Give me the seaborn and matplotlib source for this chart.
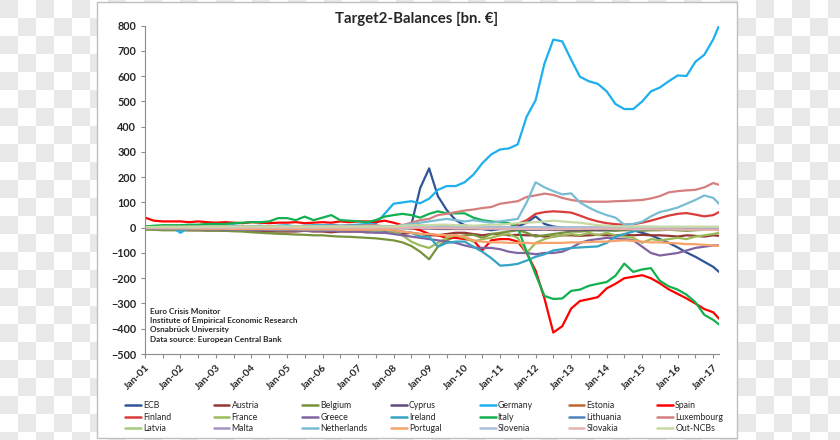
import numpy as np
import pandas as pd
import matplotlib
matplotlib.use("Agg")
import matplotlib.pyplot as plt
import matplotlib.dates as mdates
from matplotlib.lines import Line2D
from matplotlib.patches import Rectangle
from matplotlib.colors import ListedColormap
import seaborn as sns

# quarterly readings, Jan-01 .. Jan-17 plus Mar-17
dates = list(pd.date_range("2001-01-01", "2017-01-01", freq="QS")) + [pd.Timestamp("2017-03-01")]

ecb = [0, 0, 0, 0,  0, 0, -2, 0,  0, 0, 0, 0,  0, 0, 0, 0,
       0, 0, 0, 0,  0, 0, 0, 0,  0, 0, 0, 0,  0, 2, 10, 157,
       235, 125, 70, 30,  10, 0, -5, -10,  -5, 0, 5, 20,  45, 15, 5, 0,
       -5, -5, -5, -10,  -10, -10, -5, -10,  -20, -30, -45, -60,  -78, -98, -115, -135,
       -155, -175]
austria = [-5, -5, -8, -8,  -8, -10, -10, -10,  -10, -12, -12, -10,  -12, -12, -15, -15,
           -15, -15, -12, -15,  -15, -18, -15, -15,  -15, -18, -15, -16,  -20, -25, -20, -25,
           -30, -30, -25, -20,  -20, -25, -30, -25,  -25, -30, -28, -30,  -30, -35, -35, -30,
           -30, -32, -30, -28,  -30, -30, -28, -30,  -28, -30, -30, -32,  -35, -30, -32, -35,
           -30, -32]
belgium = [-8, -8, -10, -10,  -10, -10, -10, -12,  -12, -12, -14, -15,  -18, -20, -22, -24,
           -25, -27, -28, -30,  -30, -33, -35, -36,  -38, -40, -42, -46,  -50, -58, -72, -95,
           -125, -75, -50, -35,  -30, -28, -40, -25,  -20, -15, -10, -20,  -35, -30, -25, -20,
           -15, -15, -12, -10,  -10, -12, -10, -10,  -12, -10, -10, -8,  -10, -12, -10, -8,
           -5, -10]
cyprus = [-1, -1, -1, -1,  -1, -1, -2, -2,  -2, -2, -2, -2,  -2, -2, -2, -3,
          -3, -3, -3, -3,  -3, -3, -3, -3,  -3, -3, -3, -3,  -2, -2, -3, -3,
          -3, -5, -5, -5,  -5, -5, -5, -5,  -5, -6, -8, -8,  -8, -8, -9, -9,
          -10, -9, -8, -8,  -7, -6, -6, -5,  -5, -5, -4, -4,  -4, -3, -3, -3,
          -3, -3]
germany = [5, 3, 0, 2,  -20, 2, 5, 5,  5, 8, 10, 5,  5, 8, 5, 8,
           10, 5, 8, 10,  10, 12, 8, 10,  12, 15, 15, 55,  95, 100, 105, 97,
           115, 150, 165, 165,  180, 210, 255, 290,  310, 314, 330, 440,  505, 650, 745, 738,
           665, 598, 580, 570,  540, 490, 470, 470,  500, 540, 555, 580,  603, 601, 657, 685,
           746, 800]
estonia = [0, 0, 0, 0,  0, 0, 0, 0,  0, 0, 0, 0,  0, 0, 0, 0,
           0, 0, 0, 0,  0, 0, 0, 0,  0, 0, 0, 0,  0, 0, 0, 0,
           0, 0, 0, 0,  0, 0, 0, 0,  -1, -1, -1, -2,  -2, -2, -2, -2,
           -2, -2, -2, -2,  -2, -2, -2, -2,  -2, -2, -2, -2,  -2, -2, -2, -2,
           -2, -2]
spain = [40, 28, 25, 25,  25, 22, 25, 22,  20, 22, 20, 18,  22, 20, 18, 20,
         20, 22, 18, 20,  22, 20, 25, 22,  25, 25, 22, 28,  20, 10, 0, -10,
         -25, -30, -40, -40,  -45, -50, -90, -50,  -45, -45, -55, -100,  -170, -280, -415, -390,
         -320, -290, -283, -275,  -240, -222, -200, -194,  -188, -200, -220, -244,  -262, -280, -300, -322,
         -335, -360]
finland = [2, 0, 2, 0,  2, 3, 2, 3,  3, 2, 3, 4,  3, 4, 3, 4,
           4, 5, 4, 5,  5, 4, 5, 5,  5, 6, 5, 5,  5, 8, 10, 10,
           5, 5, 5, 5,  5, 5, 5, 0,  0, 0, 15, 30,  55, 62, 65, 63,
           60, 48, 35, 25,  18, 14, 12, 14,  20, 28, 38, 48,  55, 58, 52, 45,
           50, 62]
france = [-5, -5, -5, -5,  -5, -6, -5, -6,  -6, -6, -7, -8,  -8, -8, -8, -10,
          -10, -10, -10, -10,  -10, -12, -10, -12,  -12, -12, -15, -20,  -15, -30, -55, -70,
          -80, -60, -40, -30,  -40, -55, -45, -40,  -30, -25, -40, -100,  -60, -45, -35, -30,
          -25, -30, -20, -30,  -20, -30, -35, -40,  -60, -45, -50, -45,  -40, -45, -35, -30,
          -25, -20]
greece = [-3, -4, -5, -5,  -5, -6, -6, -7,  -7, -8, -8, -8,  -9, -9, -10, -10,
          -10, -11, -12, -12,  -12, -13, -14, -15,  -15, -18, -20, -20,  -25, -30, -35, -40,
          -45, -50, -55, -60,  -70, -78, -80, -80,  -85, -95, -100, -100,  -105, -100, -100, -95,
          -80, -60, -50, -45,  -40, -42, -45, -50,  -75, -100, -110, -105,  -100, -90, -80, -75,
          -70, -70]
ireland = [-2, -2, -3, -3,  -3, -4, -4, -4,  -4, -5, -5, -5,  -5, -5, -6, -6,
           -6, -6, -7, -7,  -7, -8, -8, -8,  -8, -8, -10, -10,  -10, -15, -20, -35,
           -35, -75, -60, -55,  -55, -75, -95, -120,  -150, -148, -143, -130,  -115, -105, -90, -85,
           -80, -78, -76, -74,  -60, -35, -25, -15,  -5, -5, -2, 0,  0, 2, 0, 0,
           0, 0]
italy = [5, 8, 10, 10,  10, 12, 12, 15,  15, 15, 18, 20,  22, 22, 25, 38,
         38, 30, 44, 30,  40, 50, 30, 28,  25, 22, 30, 44,  50, 55, 50, 40,
         55, 65, 57, 57,  57, 40, 30, 25,  22, 18, 0, -95,  -185, -270, -282, -280,
         -250, -245, -230, -222,  -215, -190, -142, -175,  -165, -160, -210, -232,  -245, -265, -295, -345,
         -365, -383]
lithuania = [0, 0, 0, 0,  0, 0, 0, 0,  0, 0, 0, 0,  0, 0, 0, 0,
             0, 0, 0, 0,  0, 0, 0, 0,  0, 0, 0, 0,  0, 0, 0, 0,
             0, 0, 0, 0,  0, 0, 0, 0,  0, 0, 0, 0,  0, 0, 0, 0,
             0, 0, 0, 0,  0, 0, 0, 0,  -1, -2, -2, -3,  -3, -4, -4, -5,
             -5, -5]
luxembourg = [2, 2, 3, 3,  3, 4, 4, 4,  5, 5, 5, 5,  5, 5, 6, 6,
              6, 6, 7, 7,  7, 8, 8, 8,  8, 10, 10, 5,  5, 10, 20, 30,
              35, 50, 55, 62,  68, 72, 78, 82,  95, 100, 105, 122,  128, 135, 130, 118,
              110, 105, 103, 103,  103, 105, 106, 108,  110, 116, 125, 140,  145, 148, 150, 160,
              177, 170]
latvia = [0, 0, 0, 0,  0, 0, 0, 0,  0, 0, 0, 0,  0, 0, 0, 0,
          0, 0, 0, 0,  0, 0, 0, 0,  0, 0, 0, 0,  0, 0, 0, 0,
          0, 0, 0, 0,  0, 0, 0, 0,  0, 0, 0, 0,  0, 0, 0, 0,
          0, 0, 0, 0,  -1, -2, -2, -3,  -3, -3, -4, -4,  -4, -4, -5, -5,
          -5, -5]
malta = [0, 0, 0, 0,  0, 0, 0, 0,  0, 0, 0, 0,  0, 0, 0, 0,
         0, 0, 0, 0,  0, 0, 0, 0,  0, 0, 0, 0,  1, 1, 2, 2,
         2, 2, 1, 1,  1, 1, 2, 2,  2, 1, 1, 0,  0, -1, -1, -1,
         -1, -1, -2, -2,  -2, -2, -2, -2,  -2, -2, -3, -3,  -3, -3, -3, -3,
         -3, -3]
netherlands = [2, 2, 3, 3,  3, 3, 3, 4,  4, 4, 4, 4,  4, 4, 4, 5,
               5, 5, 5, 5,  5, 5, 5, 5,  5, 5, 5, 5,  5, 10, 15, 20,
               25, 30, 35, 30,  25, 30, 25, 20,  25, 30, 35, 100,  180, 160, 145, 132,
               136, 100, 80, 63,  50, 40, 12, 15,  24, 45, 62, 70,  80, 95, 110, 128,
               118, 95]
portugal = [-2, -2, -3, -3,  -3, -3, -4, -4,  -4, -4, -5, -5,  -5, -5, -6, -6,
            -6, -6, -7, -7,  -7, -7, -8, -8,  -8, -8, -8, -8,  -10, -15, -20, -25,
            -25, -28, -30, -30,  -35, -50, -55, -58,  -58, -60, -60, -60,  -62, -60, -60, -60,
            -58, -58, -57, -55,  -55, -52, -50, -52,  -55, -58, -58, -60,  -62, -65, -65, -68,
            -70, -72]
slovenia = [0, 0, 0, 0,  0, 0, 0, 0,  0, 0, 0, 0,  0, 0, 0, 0,
            0, 0, 0, 0,  0, 0, 0, 0,  1, 1, 1, 2,  2, 2, 2, 2,
            2, 2, 2, 2,  2, 2, 2, 2,  2, 2, 1, 1,  1, 1, 1, 1,
            2, 2, 2, 2,  2, 2, 3, 3,  3, 3, 3, 3,  3, 3, 3, 3,
            3, 3]
slovakia = [0, 0, 0, 0,  0, 0, 0, 0,  0, 0, 0, 0,  0, 0, 0, 0,
            0, 0, 0, 0,  0, 0, 0, 0,  0, 0, 0, 0,  0, 0, 0, 0,
            -1, -2, -2, -3,  -3, -3, -4, -4,  -4, -5, -5, -5,  -5, -6, -6, -6,
            -5, -5, -4, -4,  -4, -5, -5, -6,  -6, -6, -7, -7,  -7, -8, -8, -8,
            -8, -8]
out_ncbs = [3, 3, 4, 4,  4, 4, 4, 5,  5, 5, 5, 5,  5, 5, 5, 5,
            5, 5, 5, 5,  5, 5, 5, 5,  5, 5, 5, 5,  5, 8, 10, 10,
            10, 12, 12, 10,  10, 8, 10, 12,  12, 15, 18, 20,  22, 25, 28, 25,
            22, 20, 15, 10,  8, 6, 5, 5,  5, 5, 4, 4,  4, 4, 4, 4,
            4, 4]

countries = ["ECB", "Austria", "Belgium", "Cyprus", "Germany", "Estonia", "Spain",
             "Finland", "France", "Greece", "Ireland", "Italy", "Lithuania", "Luxembourg",
             "Latvia", "Malta", "Netherlands", "Portugal", "Slovenia", "Slovakia", "Out-NCBs"]
series = [ecb, austria, belgium, cyprus, germany, estonia, spain,
          finland, france, greece, ireland, italy, lithuania, luxembourg,
          latvia, malta, netherlands, portugal, slovenia, slovakia, out_ncbs]
colors = ["#2F5597", "#943634", "#77933C", "#5F497A", "#1CB0EE", "#C0652C", "#FF0000",
          "#DA3B3B", "#9BBB59", "#8064A2", "#34A3C4", "#12B04F", "#4F81BD", "#D47F7E",
          "#A6CB7E", "#A493C3", "#78BDD3", "#F7A26A", "#A9BFDC", "#E3B2B1", "#C7DAA5"]
palette = dict(zip(countries, colors))

df = pd.concat([pd.DataFrame({"date": dates, "value": v, "country": c})
                for c, v in zip(countries, series)], ignore_index=True)

sns.set_style("white")
plt.rcParams["font.family"] = ["Lato", "DejaVu Sans"]

fig = plt.figure(figsize=(8.4, 4.4), dpi=100)

# transparency checkerboard + white chart panel
bg = fig.add_axes([0, 0, 1, 1], zorder=-10)
yy, xx = np.mgrid[0:440, 0:840]
bg.imshow((yy // 18 + xx // 18) % 2, cmap=ListedColormap(["#e9e9e9", "white"]),
          aspect="auto", interpolation="nearest", extent=(0, 840, 440, 0))
bg.add_patch(Rectangle((97, 2), 640, 436, facecolor="white", edgecolor="#c0c0c0", lw=1))
bg.set_xlim(0, 840)
bg.set_ylim(440, 0)
bg.set_axis_off()

ax = fig.add_axes([145 / 840, 1 - 354 / 440, (719 - 145) / 840, (354 - 25.7) / 440])
ax.patch.set_alpha(0)
sns.lineplot(data=df, x="date", y="value", hue="country", hue_order=countries,
             palette=palette, lw=1.6, legend=False, ax=ax)

ax.set_xlim(pd.Timestamp("2001-01-01"), pd.Timestamp("2017-03-01"))
ax.set_ylim(-500, 800)
ax.set_yticks(range(-500, 801, 100))
ax.xaxis.set_major_locator(mdates.YearLocator())
ax.xaxis.set_minor_locator(mdates.MonthLocator(bymonth=7))
ax.xaxis.set_major_formatter(mdates.DateFormatter("%b-%y"))
ax.set_xlabel("")
ax.set_ylabel("")
for s in ["top", "right"]:
    ax.spines[s].set_visible(False)
for s in ["left", "bottom"]:
    ax.spines[s].set_color("#8c8c8c")
    ax.spines[s].set_linewidth(0.8)
ax.tick_params(which="both", direction="out", length=3, width=0.8, color="#8c8c8c",
               bottom=True, left=True)
for lab in ax.get_yticklabels():
    lab.set_fontweight("bold")
    lab.set_fontsize(7.8)
for lab in ax.get_xticklabels():
    lab.set_fontweight("bold")
    lab.set_fontsize(7.5)
    lab.set_rotation(45)
    lab.set_ha("right")
    lab.set_rotation_mode("anchor")

fig.text(417 / 840, 1 - 19 / 440, "Target2-Balances [bn. €]", ha="center", va="center",
         fontsize=10.8, fontweight="bold")

fig.text(150 / 840, 1 - 307.5 / 440,
         "Euro Crisis Monitor\nInstitute of Empirical Economic Research\n"
         "Osnabrück University\nData source: European Central Bank",
         ha="left", va="top", fontsize=5.9, fontweight="bold", linespacing=1.4)

# legend: 3 rows x 7 equally spaced columns
handles = [Line2D([], [], color=palette[c], lw=1.8) for c in countries]
for col in range(7):
    idx = [row * 7 + col for row in range(3)]
    fig.legend([handles[i] for i in idx], [countries[i] for i in idx],
               loc="upper left", bbox_to_anchor=((125 + 88.7 * col) / 840, 1 - 401 / 440),
               frameon=False, fontsize=6.3, handlelength=1.8, handletextpad=0.25,
               labelspacing=0.3, borderpad=0, borderaxespad=0)

fig.savefig("out.png", dpi=100)
